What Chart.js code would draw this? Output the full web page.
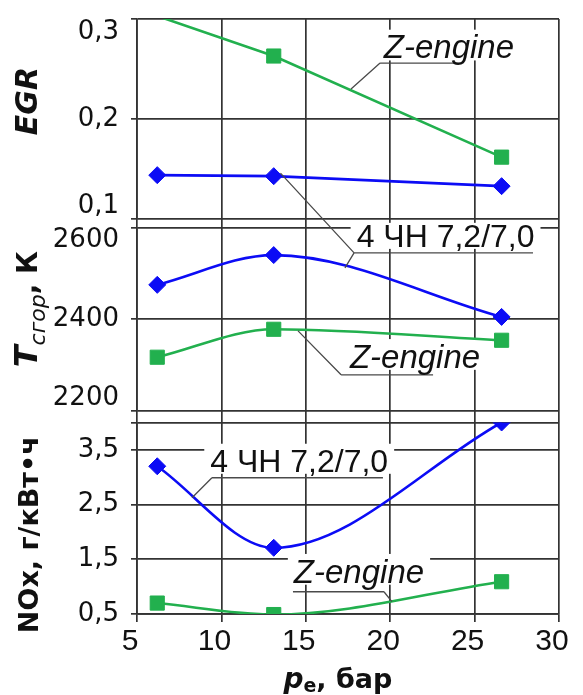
<!DOCTYPE html>
<html>
<head>
<meta charset="utf-8">
<script src="https://cdn.jsdelivr.net/npm/chart.js@4.4.1/dist/chart.umd.min.js"></script>
<style>
  html, body { margin: 0; padding: 0; background: #fff; }
  #wrap { width: 583px; height: 695px; }
</style>
</head>
<body>
<div id="wrap"><canvas id="myChart" width="583" height="695"></canvas></div>
<script>
// values
const pe = [6.2, 13.1, 26.6];            // p_e, bar
const egr4ChN = [0.144, 0.143, 0.133];
const egrZ = [0.303, 0.263, 0.162];
const tgor4ChN = [2475, 2540, 2405];
const tgorZ = [2317, 2378, 2354];
const nox4ChN = [3.2, 1.71, 4.0];
const noxZ = [0.7, 0.49, 1.09];

const xTicks = [5, 10, 15, 20, 25, 30];
const egrTicks = [0.1, 0.2, 0.3];
const tgorTicks = [2200, 2400, 2600];
const noxTicks = [0.5, 1.5, 2.5, 3.5, 4.0];
const noxTickLabels = ['0,5', '1,5', '2,5', '3,5', ''];

const BLUE = '#0c0cf5';
const GREEN = '#22b04e';
const GRID = '#333';
const INK = '#111';

function comma(v) { return v.toFixed(1).replace('.', ','); }

// lowest label goes up, highest goes down, so they stay inside the panel
function edgeLabel(text, i, n) {
  if (i === 0) return [text, ''];
  if (i === n - 1) return ['', text];
  return text;
}

const tickFont = {family: 'DejaVu Sans', size: 26, lineHeight: 1.0};

function panelAxis(min, max, values, weight, labelFn) {
  return {
    type: 'linear', position: 'left', stack: 'panels', stackWeight: weight,
    min: min, max: max,
    grid: {color: GRID, lineWidth: 1.7, tickLength: 6},
    border: {display: true, color: GRID, width: 1.7},
    ticks: {font: tickFont, color: INK, padding: 12, autoSkip: false, callback: labelFn},
    afterBuildTicks: s => { s.ticks = values.map(v => ({value: v})); },
    afterFit: s => { s.width = 137; s.paddingTop = 0; s.paddingBottom = 0; }
  };
}

function spacer(weight) {
  return {
    type: 'linear', position: 'left', stack: 'panels', stackWeight: weight,
    grid: {display: false}, border: {display: false}, ticks: {display: false},
    afterFit: s => { s.width = 137; s.paddingTop = 0; s.paddingBottom = 0; }
  };
}

function series(ys, axis, color, style, radius, smooth) {
  return {
    data: pe.map((x, i) => ({x: x, y: ys[i]})),
    yAxisID: axis,
    borderColor: color,
    backgroundColor: color,
    borderWidth: 2.6,
    pointStyle: style,
    // a point above the panel top is not drawn (the line still runs to it)
    pointRadius: c => (c.raw && c.raw.y > c.chart.scales[axis].max ? 0 : radius),
    pointBorderWidth: 1,
    tension: smooth ? 0.4 : 0,
    cubicInterpolationMode: smooth ? 'monotone' : 'default'
  };
}

// callout labels: text centre/baseline, underline and leader lines, in data units
const notes = [
  {text: 'Z-engine', italic: true, size: 33, axis: 'yEgr', x: 23.48, y: 0.2606,
   under: [19.4, 24.25, 0.256],
   leaders: [[19.4, 0.256, 17.68, 0.230, 'yEgr']]},
  {text: '4 ЧН 7,2/7,0', italic: false, size: 32, axis: 'yT', x: 23.28, y: 2557.9, padTop: 1,
   under: [17.86, 28.46, 2544.8],
   leaders: [[17.86, 2544.8, 13.5, 0.146, 'yEgr'], [17.86, 2544.8, 17.32, 2512, 'yT']]},
  {text: 'Z-engine', italic: true, size: 33, axis: 'yT', x: 21.47, y: 2293.8,
   under: [17.09, 22.54, 2278.6],
   leaders: [[17.09, 2278.6, 14.54, 2374.6, 'yT']]},
  {text: '4 ЧН 7,2/7,0', italic: false, size: 32, axis: 'yNox', x: 14.61, y: 3.099,
   under: [9.44, 19.57, 2.99],
   leaders: [[9.44, 2.99, 8.26, 2.624, 'yNox']]},
  {text: 'Z-engine', italic: true, size: 33, axis: 'yNox', x: 18.15, y: 1.072,
   under: [14.24, 19.63, 0.907],
   leaders: [[19.63, 0.907, 20.1, 0.725, 'yNox']]}
];

function noteFont(n) {
  return (n.italic ? 'italic ' : '') + n.size + "px 'Liberation Sans', Arial, sans-serif";
}

const calloutPlugin = {
  id: 'callouts',
  beforeDatasetsDraw(chart) {
    const c = chart.ctx, sx = chart.scales.x;
    c.save();
    notes.forEach(n => {
      const sy = chart.scales[n.axis];
      c.font = noteFont(n);
      const w = c.measureText(n.text).width;
      const cx = sx.getPixelForValue(n.x), by = sy.getPixelForValue(n.y);
      const cap = 0.72 * n.size;
      const top = by - cap - (n.padTop !== undefined ? n.padTop : 5);
      c.fillStyle = '#fff';
      c.fillRect(cx - w / 2 - 6, top, w + 12, by + 2 - top);
    });
    c.restore();
  },
  afterDatasetsDraw(chart) {
    const c = chart.ctx, sx = chart.scales.x;
    c.save();
    notes.forEach(n => {
      const sy = chart.scales[n.axis];
      c.strokeStyle = '#4a4a4a';
      c.lineWidth = 1.3;
      c.beginPath();
      c.moveTo(sx.getPixelForValue(n.under[0]), sy.getPixelForValue(n.under[2]));
      c.lineTo(sx.getPixelForValue(n.under[1]), sy.getPixelForValue(n.under[2]));
      n.leaders.forEach(l => {
        c.moveTo(sx.getPixelForValue(l[0]), sy.getPixelForValue(l[1]));
        c.lineTo(sx.getPixelForValue(l[2]), chart.scales[l[4]].getPixelForValue(l[3]));
      });
      c.stroke();
      c.font = noteFont(n);
      c.fillStyle = INK;
      c.textAlign = 'center';
      c.textBaseline = 'alphabetic';
      c.fillText(n.text, sx.getPixelForValue(n.x), sy.getPixelForValue(n.y));
    });
    c.restore();
  }
};

// axis titles with mixed fonts (subscripts), rotated on the left
const FAM = "'DejaVu Sans', sans-serif";
const yTitles = [
  {axis: 'yEgr', at: 0.218, base: 37, runs: [['EGR', 'italic bold 30px ' + FAM, 0]]},
  {axis: 'yT', at: 2422, base: 37, runs: [['T', 'italic bold 32px ' + FAM, 0],
                                         ['сгор', 'italic 22px ' + FAM, 8],
                                         [', К', 'bold 28px ' + FAM, 0]]},
  {axis: 'yNox', at: 1.95, base: 38, runs: [['NOx, г/кВт•ч', 'bold 27px ' + FAM, 0]]}
];
const xTitle = {at: 16.9, base: 688, runs: [['p', 'italic bold 28px ' + FAM, 0],
                                             ['e', 'bold 19px ' + FAM, 4],
                                             [', бар', 'bold 27px ' + FAM, 0]]};

function drawRuns(c, runs) {
  let total = 0;
  runs.forEach(r => { c.font = r[1]; total += c.measureText(r[0]).width; });
  let x = -total / 2;
  runs.forEach(r => {
    c.font = r[1];
    c.fillText(r[0], x, r[2]);
    x += c.measureText(r[0]).width;
  });
}

const titlePlugin = {
  id: 'titles',
  afterDraw(chart) {
    const c = chart.ctx;
    c.save();
    c.fillStyle = INK;
    c.textAlign = 'left';
    c.textBaseline = 'alphabetic';
    yTitles.forEach(t => {
      c.save();
      c.translate(t.base, chart.scales[t.axis].getPixelForValue(t.at));
      c.rotate(-Math.PI / 2);
      drawRuns(c, t.runs);
      c.restore();
    });
    c.save();
    c.translate(chart.scales.x.getPixelForValue(xTitle.at), xTitle.base);
    drawRuns(c, xTitle.runs);
    c.restore();
    c.restore();
  }
};

const ctx = document.getElementById('myChart');
const cht = new Chart(ctx, {
  type: 'line',
  data: {
    datasets: [
      series(egr4ChN, 'yEgr', BLUE, 'rectRot', 8.5, false),
      series(egrZ, 'yEgr', GREEN, 'rect', 10, false),
      series(tgor4ChN, 'yT', BLUE, 'rectRot', 8.5, true),
      series(tgorZ, 'yT', GREEN, 'rect', 10, true),
      series(nox4ChN, 'yNox', BLUE, 'rectRot', 8.5, true),
      series(noxZ, 'yNox', GREEN, 'rect', 10, true)
    ]
  },
  options: {
    responsive: false,
    animation: false,
    layout: {padding: {top: 19, right: 24, left: 0, bottom: 0}},
    plugins: {legend: {display: false}, tooltip: {enabled: false}},
    scales: {
      x: {
        type: 'linear', min: 5, max: 30,
        grid: {color: GRID, lineWidth: 1.7, tickLength: 8},
        border: {display: true, color: GRID, width: 1.7},
        ticks: {font: {family: "'Liberation Sans Narrow', 'Liberation Sans', Arial", size: 30},
                color: INK, padding: 2, labelOffset: -7, maxRotation: 0, autoSkip: false,
                callback: v => String(v)},
        afterBuildTicks: s => { s.ticks = xTicks.map(v => ({value: v})); },
        afterFit: s => { s.height = 81; s.paddingLeft = 0; s.paddingRight = 0; }
      },
      // stacked bottom to top
      yNox: panelAxis(0.5, 4.0, noxTicks, 191.6, (v, i) => noxTickLabels[i]),
      gap2: spacer(11.7),
      yT: panelAxis(2200, 2600, tgorTicks, 183.3, (v, i, t) => edgeLabel(String(v), i, t.length)),
      gap1: spacer(8.4),
      yEgr: panelAxis(0.1, 0.3, egrTicks, 200.3, (v, i, t) => edgeLabel(comma(v), i, t.length))
    }
  },
  plugins: [calloutPlugin, titlePlugin]
});
</script>
</body>
</html>
